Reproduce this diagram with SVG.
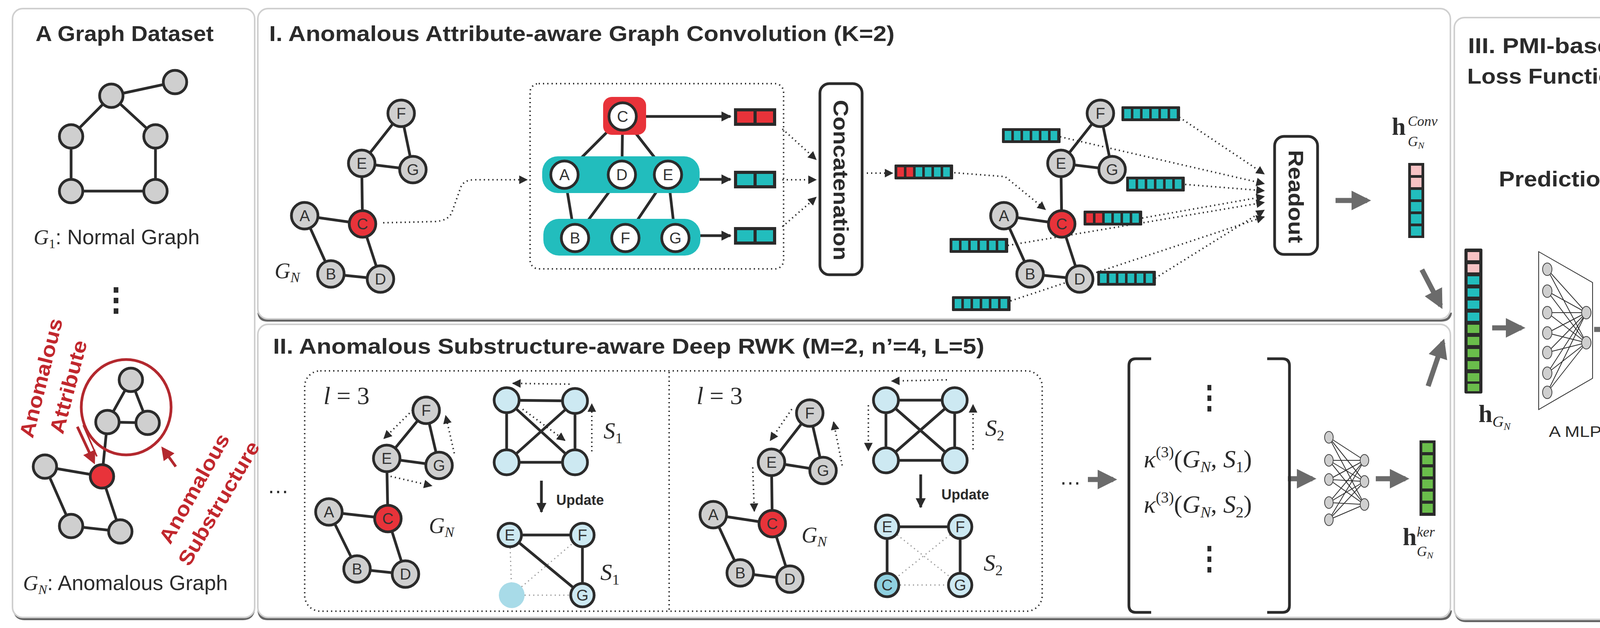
<svg xmlns="http://www.w3.org/2000/svg" xmlns:xlink="http://www.w3.org/1999/xlink" width="4287" height="1607" viewBox="0 0 4287 1607">
<style>
.panel{fill:#fff;stroke:#cfcfcf;stroke-width:4}
.shadow{fill:none;stroke:#666;stroke-width:6}
.title{font-family:"Liberation Sans",Arial,sans-serif;font-weight:bold;font-size:56px;fill:#2b2b2b}
.lbl{font-family:"Liberation Sans",Arial,sans-serif;font-size:40px;fill:#333;text-anchor:middle;dominant-baseline:central}
.sans{font-family:"Liberation Sans",Arial,sans-serif;fill:#2b2b2b}
.math{font-family:"Liberation Serif","Times New Roman",serif;fill:#2b2b2b}
.ng{fill:#cfcfcf;stroke:#2b2b2b;stroke-width:7}
.nr{fill:#e8333a;stroke:#2b2b2b;stroke-width:7}
.nw{fill:#fff;stroke:#2b2b2b;stroke-width:7}
.nb{fill:#cde9f2;stroke:#2b2b2b;stroke-width:7}
.e{stroke:#2b2b2b;stroke-width:7;fill:none}
.thin{stroke:#2b2b2b;stroke-width:2;fill:none}
.dot{stroke:#2b2b2b;stroke-width:4;stroke-dasharray:3 8;fill:none}
.dotl{stroke:#999;stroke-width:3;stroke-dasharray:3 8;fill:none}
.box{fill:#fff;stroke:#2b2b2b;stroke-width:7}
.gray{stroke:#6b6b6b;stroke-width:13;fill:none}
.red{stroke:#b3282e;fill:none}
.vb{fill:#2a2a2a}
.t{fill:#22bdbd}.r{fill:#e8333a}.p{fill:#f7c2c4}.g{fill:#6abd4b}
.sn{fill:#cfcfcf;stroke:#444;stroke-width:2}
</style>
<defs>
<marker id="ad" viewBox="0 0 10 10" markerWidth="22" markerHeight="22" refX="9" refY="5" orient="auto" markerUnits="userSpaceOnUse"><path d="M0,0 L10,5 L0,10 z" fill="#2b2b2b"/></marker>
<marker id="as" viewBox="0 0 10 10" markerWidth="26" markerHeight="26" refX="9" refY="5" orient="auto" markerUnits="userSpaceOnUse"><path d="M0,0 L10,5 L0,10 z" fill="#2b2b2b"/></marker>
<marker id="ag" viewBox="0 0 10 10" markerWidth="50" markerHeight="50" refX="8" refY="5" orient="auto" markerUnits="userSpaceOnUse"><path d="M0,0 L10,5 L0,10 z" fill="#6b6b6b"/></marker>
<marker id="ar" viewBox="0 0 10 10" markerWidth="34" markerHeight="34" refX="8" refY="5" orient="auto" markerUnits="userSpaceOnUse"><path d="M0,0 L10,5 L0,10 z" fill="#b3282e"/></marker>
<g id="v6t"><rect class="vb" x="0" y="0" width="150" height="38" rx="2"/><rect class="t" x="7" y="7" width="17" height="24"/><rect class="t" x="30.5" y="7" width="17" height="24"/><rect class="t" x="54" y="7" width="17" height="24"/><rect class="t" x="77.5" y="7" width="17" height="24"/><rect class="t" x="101" y="7" width="17" height="24"/><rect class="t" x="124.5" y="7" width="17" height="24"/></g>
<g id="v6r"><rect class="vb" x="0" y="0" width="150" height="38" rx="2"/><rect class="r" x="7" y="7" width="17" height="24"/><rect class="r" x="30.5" y="7" width="17" height="24"/><rect class="t" x="54" y="7" width="17" height="24"/><rect class="t" x="77.5" y="7" width="17" height="24"/><rect class="t" x="101" y="7" width="17" height="24"/><rect class="t" x="124.5" y="7" width="17" height="24"/></g>
<g id="v2t"><rect class="vb" x="0" y="0" width="108" height="45"/><rect class="t" x="8" y="8" width="42" height="29"/><rect class="t" x="58" y="8" width="42" height="29"/></g>
</defs>

<!-- panels -->
<g id="panels">
<path class="shadow" d="M36,1560 Q40,1584 62,1584 H622 Q646,1584 650,1560" stroke="#bbb"/>
<rect class="panel" x="32" y="22" width="620" height="1558" rx="26"/>
<path class="shadow" d="M662,800 Q664,820 684,820 H3690 Q3712,820 3714,800"/>
<rect class="panel" x="660" y="22" width="3053" height="794" rx="26"/>
<path class="shadow" d="M662,1562 Q664,1584 684,1584 H3690 Q3712,1584 3714,1562"/>
<rect class="panel" x="660" y="830" width="3053" height="750" rx="26"/>
<path class="shadow" d="M3726,1565 Q3730,1589 3752,1589 H4232 Q4256,1589 4259,1565" stroke="#bbb"/>
<rect class="panel" x="3723" y="45" width="535" height="1540" rx="26"/>
</g>

<!-- titles -->
<g id="titles">
<text class="title" x="91" y="105" textLength="456" lengthAdjust="spacingAndGlyphs">A Graph Dataset</text>
<text class="title" x="689" y="105" textLength="1601" lengthAdjust="spacingAndGlyphs">I. Anomalous Attribute-aware Graph Convolution (K=2)</text>
<text class="title" x="699" y="905" textLength="1821" lengthAdjust="spacingAndGlyphs">II. Anomalous Substructure-aware Deep RWK (M=2, n’=4, L=5)</text>
<text class="title" x="3758" y="136" textLength="405" lengthAdjust="spacingAndGlyphs">III. PMI-based</text>
<text class="title" x="3756" y="214" textLength="409" lengthAdjust="spacingAndGlyphs">Loss Function</text>
<text class="title" x="3837" y="477" textLength="297" lengthAdjust="spacingAndGlyphs">Prediction</text>
</g>

<!-- connectors -->
<g id="connectors">
<!-- dataset G1 -->
<path class="e" d="M285,245 L448,210 M285,245 L182,349 M285,245 L398,349 M182,349 L182,489 M398,349 L398,489 M182,489 L398,489"/>
<!-- dataset GN -->
<path class="e" d="M335,972 L275,1080 M335,972 L378,1082 M275,1080 L378,1082 M275,1080 L261,1219 M115,1194 L261,1219 M115,1194 L182,1346 M261,1219 L308,1360 M182,1346 L308,1360"/>
<ellipse class="red" cx="323" cy="1042" rx="115" ry="122" stroke-width="7"/>
<line class="red" x1="198" y1="1092" x2="240" y2="1182" stroke-width="7" marker-end="url(#ar)"/>
<line class="red" x1="213" y1="1088" x2="248" y2="1168" stroke-width="4"/>
<line class="red" x1="450" y1="1194" x2="417" y2="1148" stroke-width="7" marker-end="url(#ar)"/>
<!-- panel I left GN -->
<path class="e" d="M1027,290 L926,418 M1027,290 L1057,434 M926,418 L1057,434 M926,418 L928,573 M780,552 L928,573 M780,552 L847,701 M928,573 L974,714 M847,701 L974,714"/>
<path class="dot" d="M981,570 L1110,567 Q1150,566 1158,540 L1180,478 Q1188,460 1215,460 L1349,460" marker-end="url(#ad)"/>
<!-- aggregation box -->
<rect x="1357" y="214" width="649" height="474" rx="22" class="dot" stroke-width="3"/>
<path class="e" d="M1594,298 L1445,447 M1594,298 L1592,447 M1594,298 L1710,447 M1445,447 L1472,609 M1592,447 L1472,609 M1710,447 L1601,609 M1710,447 L1729,609"/>
<line class="e" x1="1654" y1="298" x2="1870" y2="298" stroke-width="4" marker-end="url(#as)"/>
<line class="e" x1="1791" y1="459" x2="1870" y2="459" stroke-width="4" marker-end="url(#as)"/>
<line class="e" x1="1793" y1="603" x2="1870" y2="603" stroke-width="4" marker-end="url(#as)"/>
<line class="dot" x1="2003" y1="330" x2="2089" y2="408" marker-end="url(#ad)"/>
<line class="dot" x1="2003" y1="460" x2="2089" y2="460" marker-end="url(#ad)"/>
<line class="dot" x1="2003" y1="580" x2="2089" y2="505" marker-end="url(#ad)"/>
<line class="dot" x1="2219" y1="443" x2="2285" y2="443" marker-end="url(#ad)"/>
<path class="dot" d="M2443,442 L2573,452 L2676,536" marker-end="url(#ad)"/>
<!-- panel I right GN -->
<path class="e" d="M2817,290 L2716,418 M2817,290 L2847,434 M2716,418 L2847,434 M2716,418 L2718,573 M2570,552 L2718,573 M2570,552 L2637,701 M2718,573 L2764,714 M2637,701 L2764,714"/>
<line class="dot" x1="3019" y1="300" x2="3236" y2="445" marker-end="url(#ad)"/>
<line class="dot" x1="2714" y1="350" x2="3236" y2="470" marker-end="url(#ad)"/>
<line class="dot" x1="3034" y1="472" x2="3236" y2="488" marker-end="url(#ad)"/>
<line class="dot" x1="2924" y1="558" x2="3236" y2="503" marker-end="url(#ad)"/>
<line class="dot" x1="2580" y1="628" x2="3236" y2="518" marker-end="url(#ad)"/>
<line class="dot" x1="2957" y1="712" x2="3236" y2="538" marker-end="url(#ad)"/>
<line class="dot" x1="2587" y1="770" x2="3236" y2="555" marker-end="url(#ad)"/>
<line class="gray" x1="3419" y1="513" x2="3500" y2="513" marker-end="url(#ag)"/>
<line class="gray" x1="3640" y1="690" x2="3688" y2="782" marker-end="url(#ag)"/>
<line class="gray" x1="3656" y1="988" x2="3694" y2="876" marker-end="url(#ag)"/>
<line class="gray" x1="3820" y1="839" x2="3895" y2="839" marker-end="url(#ag)"/>
<line class="gray" x1="4081" y1="843" x2="4160" y2="843" marker-end="url(#ag)"/>
<!-- panel II -->
<rect x="780" y="949" width="1888" height="615" rx="40" class="dot" stroke-width="3"/>
<line class="dot" x1="1713" y1="952" x2="1713" y2="1562" stroke-width="3"/>
<path class="e" d="M1091,1050 L990,1173 M1091,1050 L1124,1191 M990,1173 L1124,1191 M990,1173 L993,1327 M842,1310 L993,1327 M842,1310 L914,1456 M993,1327 L1038,1469 M914,1456 L1038,1469"/>
<line class="dot" x1="1072" y1="1034" x2="983" y2="1122" marker-end="url(#ad)"/>
<line class="dot" x1="1163" y1="1160" x2="1141" y2="1064" marker-end="url(#ad)"/>
<line class="dot" x1="1000" y1="1219" x2="1105" y2="1243" marker-end="url(#ad)"/>
<path class="e" d="M1297,1024 L1472,1026 M1297,1024 L1297,1183 M1297,1183 L1472,1183 M1472,1026 L1472,1183 M1297,1024 L1472,1183 M1472,1026 L1297,1183"/>
<line class="dot" x1="1458" y1="983" x2="1313" y2="981" marker-end="url(#ad)"/>
<line class="dot" x1="1515" y1="1155" x2="1515" y2="1034" marker-end="url(#ad)"/>
<line class="dot" x1="1338" y1="1047" x2="1446" y2="1127" marker-end="url(#ad)"/>
<line class="e" x1="1386" y1="1230" x2="1386" y2="1310" stroke-width="6" marker-end="url(#as)"/>
<path class="e" d="M1305,1369 L1491,1369 M1491,1369 L1491,1523 M1305,1369 L1491,1523"/>
<path class="dotl" d="M1305,1369 L1310,1523 L1491,1523 M1310,1523 L1491,1369"/>
<path class="e" d="M2073,1057 L1975,1183 M2073,1057 L2107,1204 M1975,1183 L2107,1204 M1975,1183 L1977,1340 M1826,1317 L1977,1340 M1826,1317 L1895,1466 M1977,1340 L2022,1482 M1895,1466 L2022,1482"/>
<line class="dot" x1="2027" y1="1047" x2="1972" y2="1127" marker-end="url(#ad)"/>
<line class="dot" x1="1927" y1="1196" x2="1931" y2="1308" marker-end="url(#ad)"/>
<line class="dot" x1="2156" y1="1191" x2="2134" y2="1080" marker-end="url(#ad)"/>
<path class="e" d="M2268,1024 L2444,1024 M2268,1024 L2268,1178 M2268,1178 L2444,1178 M2444,1024 L2444,1178 M2268,1024 L2444,1178 M2444,1024 L2268,1178"/>
<line class="dot" x1="2424" y1="972" x2="2283" y2="975" marker-end="url(#ad)"/>
<line class="dot" x1="2223" y1="1037" x2="2223" y2="1153" marker-end="url(#ad)"/>
<line class="dot" x1="2491" y1="1150" x2="2491" y2="1036" marker-end="url(#ad)"/>
<line class="e" x1="2357" y1="1214" x2="2357" y2="1298" stroke-width="6" marker-end="url(#as)"/>
<path class="e" d="M2271,1348 L2458,1348 M2271,1348 L2271,1497 M2458,1348 L2458,1497"/>
<path class="dotl" d="M2271,1497 L2458,1497 M2271,1348 L2458,1497 M2458,1348 L2271,1497"/>
<line class="gray" x1="2785" y1="1227" x2="2850" y2="1227" marker-end="url(#ag)"/>
<line class="gray" x1="3297" y1="1225" x2="3360" y2="1225" marker-end="url(#ag)"/>
<line class="gray" x1="3522" y1="1225" x2="3598" y2="1225" marker-end="url(#ag)"/>
<!-- small NN -->
<path class="thin" d="M3402,1119 L3493,1178 M3402,1119 L3493,1232 M3402,1119 L3493,1291 M3402,1178 L3493,1178 M3402,1178 L3493,1232 M3402,1178 L3493,1291 M3402,1227 L3493,1178 M3402,1227 L3493,1232 M3402,1227 L3493,1291 M3402,1286 L3493,1178 M3402,1286 L3493,1232 M3402,1286 L3493,1291 M3402,1330 L3493,1178 M3402,1330 L3493,1232 M3402,1330 L3493,1291"/>
<!-- MLP -->
<path class="thin" d="M3939,644 L4077,723 L4077,968 L3939,1048 Z"/>
<path class="thin" stroke-width="1.6" d="M3961,689 L4061,800 M3961,689 L4061,877 M3961,745 L4061,800 M3961,745 L4061,877 M3961,800 L4061,800 M3961,800 L4061,877 M3961,852 L4061,800 M3961,852 L4061,877 M3961,902 L4061,800 M3961,902 L4061,877 M3961,955 L4061,800 M3961,955 L4061,877 M3961,1004 L4061,800 M3961,1004 L4061,877"/>
<!-- matrix brackets -->
<path class="e" stroke-width="8" d="M2947,918 H2908 Q2890,918 2890,936 V1549 Q2890,1567 2908,1567 H2947"/>
<path class="e" stroke-width="8" d="M3244,918 H3283 Q3301,918 3301,936 V1549 Q3301,1567 3283,1567 H3244"/>
</g>

<!-- nodes -->
<g id="node-dataset-g1">
<circle class="ng" cx="285" cy="245" r="30"/><circle class="ng" cx="448" cy="210" r="30"/><circle class="ng" cx="182" cy="349" r="30"/><circle class="ng" cx="398" cy="349" r="30"/><circle class="ng" cx="182" cy="489" r="30"/><circle class="ng" cx="398" cy="489" r="30"/>
<text class="sans" x="86" y="625" font-size="54"><tspan class="math" font-style="italic">G</tspan><tspan class="math" font-size="34" dy="10">1</tspan><tspan dy="-10">: Normal Graph</tspan></text>
<rect x="291" y="735" width="12" height="14" fill="#2b2b2b"/><rect x="291" y="762" width="12" height="14" fill="#2b2b2b"/><rect x="291" y="789" width="12" height="14" fill="#2b2b2b"/>
</g>
<g id="node-dataset-gn">
<circle class="ng" cx="335" cy="972" r="30"/><circle class="ng" cx="275" cy="1080" r="30"/><circle class="ng" cx="378" cy="1082" r="30"/><circle class="nr" cx="261" cy="1219" r="30" fill="#ea4a50"/><circle class="ng" cx="115" cy="1194" r="30"/><circle class="ng" cx="182" cy="1346" r="30"/><circle class="ng" cx="308" cy="1360" r="30"/>
<g class="sans" font-weight="bold" font-size="52" fill="#c1272d" style="fill:#c1272d" text-anchor="middle" dominant-baseline="central">
<text transform="translate(105,967) rotate(-75.8)" textLength="313" lengthAdjust="spacingAndGlyphs">Anomalous</text>
<text transform="translate(175,990) rotate(-75.3)" textLength="245" lengthAdjust="spacingAndGlyphs">Attribute</text>
<text transform="translate(497,1250) rotate(-60.7)" textLength="313" lengthAdjust="spacingAndGlyphs">Anomalous</text>
<text transform="translate(560,1288) rotate(-59.5)" textLength="359" lengthAdjust="spacingAndGlyphs">Substructure</text>
</g>
<text class="sans" x="59" y="1510" font-size="54"><tspan class="math" font-style="italic">G</tspan><tspan class="math" font-style="italic" font-size="34" dy="10">N</tspan><tspan dy="-10">: Anomalous Graph</tspan></text>
</g>

<g id="node-gn-input">
<circle class="ng" cx="1027" cy="290" r="34"/><text class="lbl" x="1027" y="290">F</text>
<circle class="ng" cx="926" cy="418" r="34"/><text class="lbl" x="926" y="418">E</text>
<circle class="ng" cx="1057" cy="434" r="34"/><text class="lbl" x="1057" y="434">G</text>
<circle class="ng" cx="780" cy="552" r="34"/><text class="lbl" x="780" y="552">A</text>
<circle class="nr" cx="928" cy="573" r="34"/><text class="lbl" x="928" y="573">C</text>
<circle class="ng" cx="847" cy="701" r="34"/><text class="lbl" x="847" y="701">B</text>
<circle class="ng" cx="974" cy="714" r="34"/><text class="lbl" x="974" y="714">D</text>
<text class="math" x="703" y="712" font-size="56" font-style="italic">G<tspan font-size="36" dy="10">N</tspan></text>
</g>

<g id="node-aggregation">
<rect x="1544" y="248" width="110" height="97" rx="22" fill="#e8333a"/>
<rect x="1388" y="400" width="403" height="94" rx="40" fill="#22bdbd"/>
<rect x="1391" y="560" width="402" height="94" rx="40" fill="#22bdbd"/>
<circle class="nw" cx="1594" cy="298" r="35"/><text class="lbl" x="1594" y="298">C</text>
<circle class="nw" cx="1445" cy="447" r="35"/><text class="lbl" x="1445" y="447">A</text>
<circle class="nw" cx="1592" cy="447" r="35"/><text class="lbl" x="1592" y="447">D</text>
<circle class="nw" cx="1710" cy="447" r="35"/><text class="lbl" x="1710" y="447">E</text>
<circle class="nw" cx="1472" cy="609" r="35"/><text class="lbl" x="1472" y="609">B</text>
<circle class="nw" cx="1601" cy="609" r="35"/><text class="lbl" x="1601" y="609">F</text>
<circle class="nw" cx="1729" cy="609" r="35"/><text class="lbl" x="1729" y="609">G</text>
<g><rect class="vb" x="1879" y="277" width="108" height="45"/><rect class="r" x="1887" y="285" width="42" height="29"/><rect class="r" x="1937" y="285" width="42" height="29"/></g>
<use xlink:href="#v2t" x="1879" y="437"/>
<use xlink:href="#v2t" x="1879" y="581"/>
</g>

<g id="node-concatenation">
<rect class="box" x="2099" y="214" width="108" height="489" rx="24"/>
<text class="sans" font-weight="bold" font-size="54" text-anchor="middle" dominant-baseline="central" transform="translate(2153,461) rotate(90)" textLength="411" lengthAdjust="spacingAndGlyphs">Concatenation</text>
<use xlink:href="#v6r" x="2290" y="421"/>
</g>

<g id="node-gn-embedded">
<circle class="ng" cx="2817" cy="290" r="34"/><text class="lbl" x="2817" y="290">F</text>
<circle class="ng" cx="2716" cy="418" r="34"/><text class="lbl" x="2716" y="418">E</text>
<circle class="ng" cx="2847" cy="434" r="34"/><text class="lbl" x="2847" y="434">G</text>
<circle class="ng" cx="2570" cy="552" r="34"/><text class="lbl" x="2570" y="552">A</text>
<circle class="nr" cx="2718" cy="573" r="34"/><text class="lbl" x="2718" y="573">C</text>
<circle class="ng" cx="2637" cy="701" r="34"/><text class="lbl" x="2637" y="701">B</text>
<circle class="ng" cx="2764" cy="714" r="34"/><text class="lbl" x="2764" y="714">D</text>
<use xlink:href="#v6t" x="2871" y="272"/>
<use xlink:href="#v6t" x="2565" y="328"/>
<use xlink:href="#v6t" x="2883" y="452"/>
<use xlink:href="#v6r" x="2774" y="539"/>
<use xlink:href="#v6t" x="2431" y="609"/>
<use xlink:href="#v6t" x="2809" y="693"/>
<use xlink:href="#v6t" x="2437" y="758"/>
</g>

<g id="node-readout">
<rect class="box" x="3263" y="349" width="110" height="302" rx="24"/>
<text class="sans" font-weight="bold" font-size="54" text-anchor="middle" dominant-baseline="central" transform="translate(3318,503) rotate(90)" textLength="238" lengthAdjust="spacingAndGlyphs">Readout</text>
</g>

<g id="node-h-conv">
<text class="math" x="3563" y="345" font-size="64" font-weight="bold">h</text>
<text class="math" x="3604" y="322" font-size="36" font-style="italic">Conv</text>
<text class="math" x="3604" y="374" font-size="36" font-style="italic">G<tspan font-size="24" dy="6">N</tspan></text>
<rect class="vb" x="3605" y="417" width="41" height="192"/>
<rect class="p" x="3612" y="424" width="27" height="24"/><rect class="p" x="3612" y="455" width="27" height="24"/><rect class="t" x="3612" y="486" width="27" height="24"/><rect class="t" x="3612" y="517" width="27" height="24"/><rect class="t" x="3612" y="548" width="27" height="24"/><rect class="t" x="3612" y="579" width="27" height="24"/>
</g>

<g id="node-walk-1">
<text class="math" x="828" y="1034" font-size="64" font-style="italic">l<tspan font-style="normal"> = 3</tspan></text>
<text class="sans" x="684" y="1262" font-size="56">…</text>
<circle class="ng" cx="1091" cy="1050" r="34"/><text class="lbl" x="1091" y="1050">F</text>
<circle class="ng" cx="990" cy="1173" r="34"/><text class="lbl" x="990" y="1173">E</text>
<circle class="ng" cx="1124" cy="1191" r="34"/><text class="lbl" x="1124" y="1191">G</text>
<circle class="ng" cx="842" cy="1310" r="34"/><text class="lbl" x="842" y="1310">A</text>
<circle class="nr" cx="993" cy="1327" r="34"/><text class="lbl" x="993" y="1327">C</text>
<circle class="ng" cx="914" cy="1456" r="34"/><text class="lbl" x="914" y="1456">B</text>
<circle class="ng" cx="1038" cy="1469" r="34"/><text class="lbl" x="1038" y="1469">D</text>
<text class="math" x="1098" y="1364" font-size="56" font-style="italic">G<tspan font-size="36" dy="10">N</tspan></text>
<circle class="nb" cx="1297" cy="1024" r="32"/><circle class="nb" cx="1472" cy="1026" r="32"/><circle class="nb" cx="1297" cy="1183" r="32"/><circle class="nb" cx="1472" cy="1183" r="32"/>
<text class="math" x="1545" y="1122" font-size="60" font-style="italic">S<tspan font-style="normal" font-size="38" dy="12">1</tspan></text>
<text class="sans" x="1424" y="1292" font-size="36" font-weight="bold">Update</text>
<circle class="nb" cx="1305" cy="1369" r="30"/><text class="lbl" x="1305" y="1369">E</text>
<circle class="nb" cx="1491" cy="1369" r="30"/><text class="lbl" x="1491" y="1369">F</text>
<circle class="nb" cx="1491" cy="1523" r="30"/><text class="lbl" x="1491" y="1523">G</text>
<circle cx="1310" cy="1523" r="33" fill="#a8dbe8"/>
<text class="math" x="1537" y="1484" font-size="60" font-style="italic">S<tspan font-style="normal" font-size="38" dy="12">1</tspan></text>
</g>

<g id="node-walk-2">
<text class="math" x="1783" y="1034" font-size="64" font-style="italic">l<tspan font-style="normal"> = 3</tspan></text>
<circle class="ng" cx="2073" cy="1057" r="34"/><text class="lbl" x="2073" y="1057">F</text>
<circle class="ng" cx="1975" cy="1183" r="34"/><text class="lbl" x="1975" y="1183">E</text>
<circle class="ng" cx="2107" cy="1204" r="34"/><text class="lbl" x="2107" y="1204">G</text>
<circle class="ng" cx="1826" cy="1317" r="34"/><text class="lbl" x="1826" y="1317">A</text>
<circle class="nr" cx="1977" cy="1340" r="34"/><text class="lbl" x="1977" y="1340">C</text>
<circle class="ng" cx="1895" cy="1466" r="34"/><text class="lbl" x="1895" y="1466">B</text>
<circle class="ng" cx="2022" cy="1482" r="34"/><text class="lbl" x="2022" y="1482">D</text>
<text class="math" x="2052" y="1388" font-size="56" font-style="italic">G<tspan font-size="36" dy="10">N</tspan></text>
<circle class="nb" cx="2268" cy="1024" r="32"/><circle class="nb" cx="2444" cy="1024" r="32"/><circle class="nb" cx="2268" cy="1178" r="32"/><circle class="nb" cx="2444" cy="1178" r="32"/>
<text class="math" x="2522" y="1115" font-size="60" font-style="italic">S<tspan font-style="normal" font-size="38" dy="12">2</tspan></text>
<text class="sans" x="2410" y="1278" font-size="36" font-weight="bold">Update</text>
<circle class="nb" cx="2271" cy="1348" r="30"/><text class="lbl" x="2271" y="1348">E</text>
<circle class="nb" cx="2458" cy="1348" r="30"/><text class="lbl" x="2458" y="1348">F</text>
<circle class="nb" cx="2271" cy="1497" r="30" style="fill:#8fd0e0"/><text class="lbl" x="2271" y="1497">C</text>
<circle class="nb" cx="2458" cy="1497" r="30"/><text class="lbl" x="2458" y="1497">G</text>
<text class="math" x="2518" y="1460" font-size="60" font-style="italic">S<tspan font-style="normal" font-size="38" dy="12">2</tspan></text>
<text class="sans" x="2712" y="1240" font-size="56">…</text>
</g>

<g id="node-kernel-matrix">
<rect x="3091" y="985" width="10" height="14" fill="#2b2b2b"/><rect x="3091" y="1012" width="10" height="14" fill="#2b2b2b"/><rect x="3091" y="1039" width="10" height="14" fill="#2b2b2b"/>
<rect x="3091" y="1397" width="10" height="14" fill="#2b2b2b"/><rect x="3091" y="1424" width="10" height="14" fill="#2b2b2b"/><rect x="3091" y="1451" width="10" height="14" fill="#2b2b2b"/>
<text class="math" x="2928" y="1196" font-size="64"><tspan font-style="italic">κ</tspan><tspan font-size="40" dy="-26">(3)</tspan><tspan dy="26">(</tspan><tspan font-style="italic">G</tspan><tspan font-style="italic" font-size="40" dy="12">N</tspan><tspan dy="-12">, </tspan><tspan font-style="italic">S</tspan><tspan font-size="40" dy="12">1</tspan><tspan dy="-12">)</tspan></text>
<text class="math" x="2928" y="1312" font-size="64"><tspan font-style="italic">κ</tspan><tspan font-size="40" dy="-26">(3)</tspan><tspan dy="26">(</tspan><tspan font-style="italic">G</tspan><tspan font-style="italic" font-size="40" dy="12">N</tspan><tspan dy="-12">, </tspan><tspan font-style="italic">S</tspan><tspan font-size="40" dy="12">2</tspan><tspan dy="-12">)</tspan></text>
</g>

<g id="node-small-nn">
<ellipse class="sn" cx="3402" cy="1119" rx="11" ry="15"/><ellipse class="sn" cx="3402" cy="1178" rx="11" ry="15"/><ellipse class="sn" cx="3402" cy="1227" rx="11" ry="15"/><ellipse class="sn" cx="3402" cy="1286" rx="11" ry="15"/><ellipse class="sn" cx="3402" cy="1330" rx="11" ry="15"/>
<ellipse class="sn" cx="3493" cy="1178" rx="11" ry="15"/><ellipse class="sn" cx="3493" cy="1232" rx="11" ry="15"/><ellipse class="sn" cx="3493" cy="1291" rx="11" ry="15"/>
</g>

<g id="node-h-ker">
<rect class="vb" x="3634" y="1127" width="41" height="193"/>
<rect class="g" x="3641" y="1134" width="27" height="23"/><rect class="g" x="3641" y="1165" width="27" height="23"/><rect class="g" x="3641" y="1196" width="27" height="23"/><rect class="g" x="3641" y="1227" width="27" height="23"/><rect class="g" x="3641" y="1258" width="27" height="23"/><rect class="g" x="3641" y="1289" width="27" height="23"/>
<text class="math" x="3591" y="1395" font-size="64" font-weight="bold">h</text>
<text class="math" x="3627" y="1373" font-size="36" font-style="italic">ker</text>
<text class="math" x="3627" y="1423" font-size="36" font-style="italic">G<tspan font-size="24" dy="6">N</tspan></text>
</g>

<g id="node-h-combined">
<rect class="vb" x="3749" y="636" width="46" height="371" rx="4"/>
<rect class="p" x="3757" y="645" width="30" height="21"/><rect class="p" x="3757" y="676" width="30" height="21"/><rect class="t" x="3757" y="707" width="30" height="21"/><rect class="t" x="3757" y="738" width="30" height="21"/><rect class="t" x="3757" y="769" width="30" height="21"/><rect class="t" x="3757" y="800" width="30" height="21"/><rect class="g" x="3757" y="831" width="30" height="21"/><rect class="g" x="3757" y="862" width="30" height="21"/><rect class="g" x="3757" y="893" width="30" height="21"/><rect class="g" x="3757" y="924" width="30" height="21"/><rect class="g" x="3757" y="955" width="30" height="21"/><rect class="g" x="3757" y="982" width="30" height="19"/>
<text class="math" x="3785" y="1080" font-size="64" font-weight="bold">h<tspan font-weight="normal" font-style="italic" font-size="40" dy="12">G</tspan><tspan font-weight="normal" font-style="italic" font-size="26" dy="8">N</tspan></text>
</g>

<g id="node-mlp">
<ellipse class="sn" cx="3961" cy="689" rx="12" ry="16"/><ellipse class="sn" cx="3961" cy="745" rx="12" ry="16"/><ellipse class="sn" cx="3961" cy="800" rx="12" ry="16"/><ellipse class="sn" cx="3961" cy="852" rx="12" ry="16"/><ellipse class="sn" cx="3961" cy="902" rx="12" ry="16"/><ellipse class="sn" cx="3961" cy="955" rx="12" ry="16"/><ellipse class="sn" cx="3961" cy="1004" rx="12" ry="16"/>
<ellipse class="sn" cx="4061" cy="800" rx="12" ry="16"/><ellipse class="sn" cx="4061" cy="877" rx="12" ry="16"/>
<text class="sans" x="3965" y="1118" font-size="38" textLength="135" lengthAdjust="spacingAndGlyphs">A MLP</text>
</g>

<g id="node-output">
<text class="sans" font-weight="bold" font-size="56" text-anchor="middle" dominant-baseline="central" transform="translate(4222,848) rotate(90)" textLength="320" lengthAdjust="spacingAndGlyphs">Anomalous</text>
</g>
</svg>
